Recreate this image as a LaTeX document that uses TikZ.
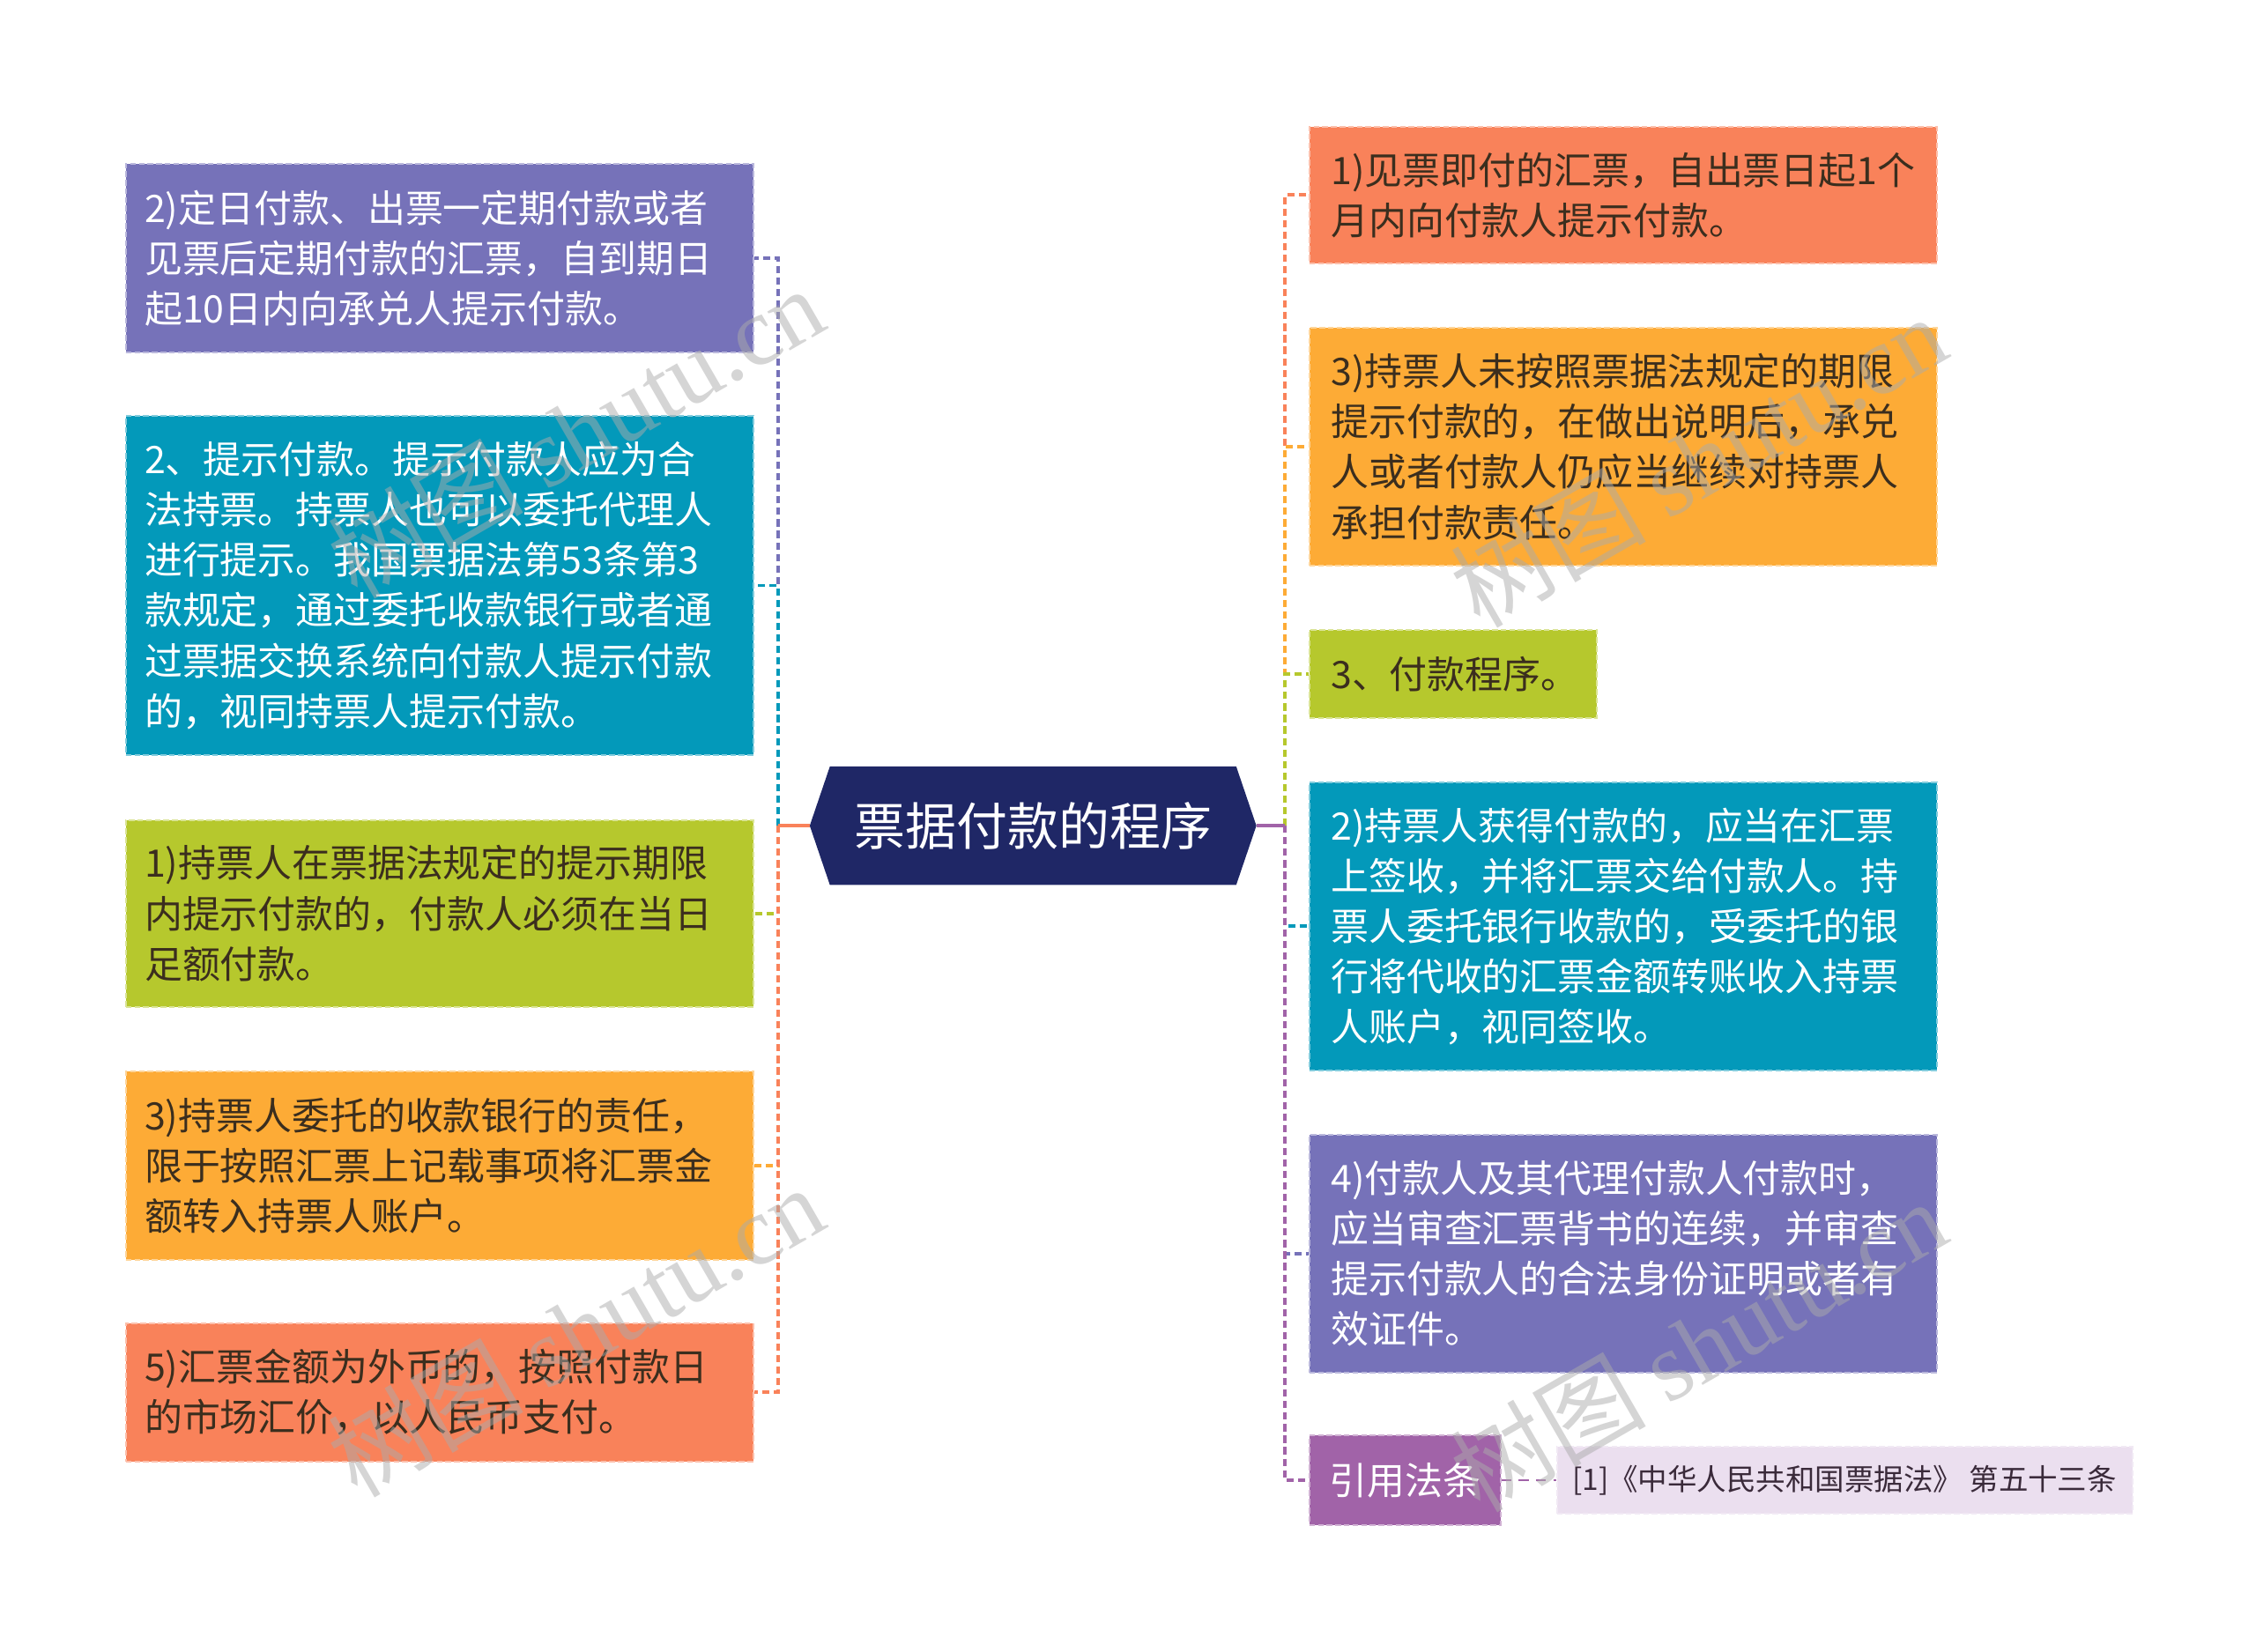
\documentclass[tikz,border=0pt]{standalone}
\usepackage{fontspec}
\setmainfont{Noto Sans CJK SC}
\newfontfamily\wmserif{Liberation Serif}
\usetikzlibrary{calc}
\definecolor{cPurple}{HTML}{7672B9}
\definecolor{cTeal}{HTML}{0399BA}
\definecolor{cLime}{HTML}{B6C82D}
\definecolor{cOrange}{HTML}{FDAB36}
\definecolor{cCoral}{HTML}{F9825A}
\definecolor{cNavy}{HTML}{1F2766}
\definecolor{cRefPurple}{HTML}{A163A8}
\definecolor{cLavender}{HTML}{EBDFEF}
\definecolor{cDark}{HTML}{3B2E1E}
\definecolor{cRefText}{HTML}{3A2A3A}
\begin{document}
\begin{tikzpicture}[x=1pt,y=-1pt,
  box/.style={rectangle, fill=#1, draw=#1!50!white, dash pattern=on 4pt off 2pt, line width=1.2pt,
     inner xsep=13pt, inner ysep=0pt, align=left, font=\fontsize{26.3}{35}\selectfont},
  wide/.style={text width=410pt},
  rwide/.style={text width=406pt, inner xsep=15pt},
  light/.style={text=white},
  dark/.style={text=cDark},
  conn/.style={line width=2.4pt, dash pattern=on 5pt off 3pt},
  stub/.style={line width=2.4pt},
  wm/.style={text=black!33, opacity=0.5, font=\fontsize{68}{68}\selectfont, rotate=30}
]
\useasboundingbox (0,0) rectangle (1568,1148);

% centre
\node[minimum width=282pt, minimum height=82pt, inner sep=0pt] (c) at (718,574) {};
\coordinate (cl) at ($(c.west)+(-14,0)$);
\coordinate (cr) at ($(c.east)+(14,0)$);
\fill[cNavy] (c.north west) -- (c.north east) -- (cr) -- (c.south east) -- (c.south west) -- (cl) -- cycle;
\node[text=white, font=\fontsize{35.5}{40}\selectfont] (ct) at (c) {票据付款的程序};

% left children
\node[box=cPurple, wide, light, minimum height=131pt] (L1) at (305.5,179.5)
  {2)定日付款、出票一定期付款或者\\见票后定期付款的汇票，自到期日\\起10日内向承兑人提示付款。};
\node[box=cTeal, wide, light, minimum height=236pt] (L2) at (305.5,407)
  {2、提示付款。提示付款人应为合\\法持票。持票人也可以委托代理人\\进行提示。我国票据法第53条第3\\款规定，通过委托收款银行或者通\\过票据交换系统向付款人提示付款\\的，视同持票人提示付款。};
\node[box=cLime, wide, dark, minimum height=130pt] (L3) at (305.5,635)
  {1)持票人在票据法规定的提示期限\\内提示付款的，付款人必须在当日\\足额付款。};
\node[box=cOrange, wide, dark, minimum height=131pt] (L4) at (305.5,810.5)
  {3)持票人委托的收款银行的责任，\\限于按照汇票上记载事项将汇票金\\额转入持票人账户。};
\node[box=cCoral, wide, dark, minimum height=96pt] (L5) at (305.5,968)
  {5)汇票金额为外币的，按照付款日\\的市场汇价，以人民币支付。};

% right children
\node[box=cCoral, rwide, dark, minimum height=95pt] (R1) at (1128,135.5)
  {1)见票即付的汇票，自出票日起1个\\月内向付款人提示付款。};
\node[box=cOrange, rwide, dark, minimum height=165pt] (R2) at (1128,310.5)
  {3)持票人未按照票据法规定的期限\\提示付款的，在做出说明后，承兑\\人或者付款人仍应当继续对持票人\\承担付款责任。};
\node[box=cLime, text width=170pt, inner xsep=15pt, dark, minimum height=61pt] (R3) at (1010,468.5)
  {3、付款程序。};
\node[box=cTeal, rwide, light, minimum height=200pt] (R4) at (1128,644)
  {2)持票人获得付款的，应当在汇票\\上签收，并将汇票交给付款人。持\\票人委托银行收款的，受委托的银\\行将代收的汇票金额转账收入持票\\人账户，视同签收。};
\node[box=cPurple, rwide, light, minimum height=165pt] (R5) at (1128,871.5)
  {4)付款人及其代理付款人付款时，\\应当审查汇票背书的连续，并审查\\提示付款人的合法身份证明或者有\\效证件。};
\node[box=cRefPurple, light, align=center, minimum width=133pt, minimum height=62pt, inner xsep=0pt] (R6) at (976.5,1029)
  {引用法条};
\node[box=cLavender, draw=cLavender!70!white, text=cRefText, align=center, minimum width=400pt, minimum height=46pt, inner xsep=0pt, font=\fontsize{20.5}{24}\selectfont] (ref) at (1282,1029)
  {[1]《中华人民共和国票据法》 第五十三条};

% junctions
\coordinate (lj) at ($(cl)+(-22,0)$);
\coordinate (rj) at ($(cr)+(20,0)$);

% left connectors
\draw[conn, cPurple] (lj) |- (L1.east);
\draw[conn, cTeal] (lj) |- (L2.east);
\draw[conn, cLime] (lj) |- (L3.east);
\draw[conn, cOrange] (lj) |- (L4.east);
\draw[conn, cCoral] (lj) |- (L5.east);
\draw[stub, cCoral] (cl) -- (lj);

% right connectors
\draw[conn, cCoral] (rj) |- (R1.west);
\draw[conn, cOrange] (rj) |- (R2.west);
\draw[conn, cLime] (rj) |- (R3.west);
\draw[conn, cTeal] (rj) |- (R4.west);
\draw[conn, cPurple] (rj) |- (R5.west);
\draw[conn, cRefPurple] (rj) |- (R6.west);
\draw[stub, cRefPurple] (cr) -- (rj);

\draw[cRefPurple, line width=1.6pt, dash pattern=on 7pt off 5pt] (R6.east) -- (ref.west);

% watermarks
\node[wm] (wm1) at (400,300) {树图 {\wmserif shutu.cn}};
\node[wm] (wm2) at (400,925) {树图 {\wmserif shutu.cn}};
\node[wm] (wm3) at (1180,320) {树图 {\wmserif shutu.cn}};
\node[wm] (wm4) at (1180,935) {树图 {\wmserif shutu.cn}};
\end{tikzpicture}
\end{document}
